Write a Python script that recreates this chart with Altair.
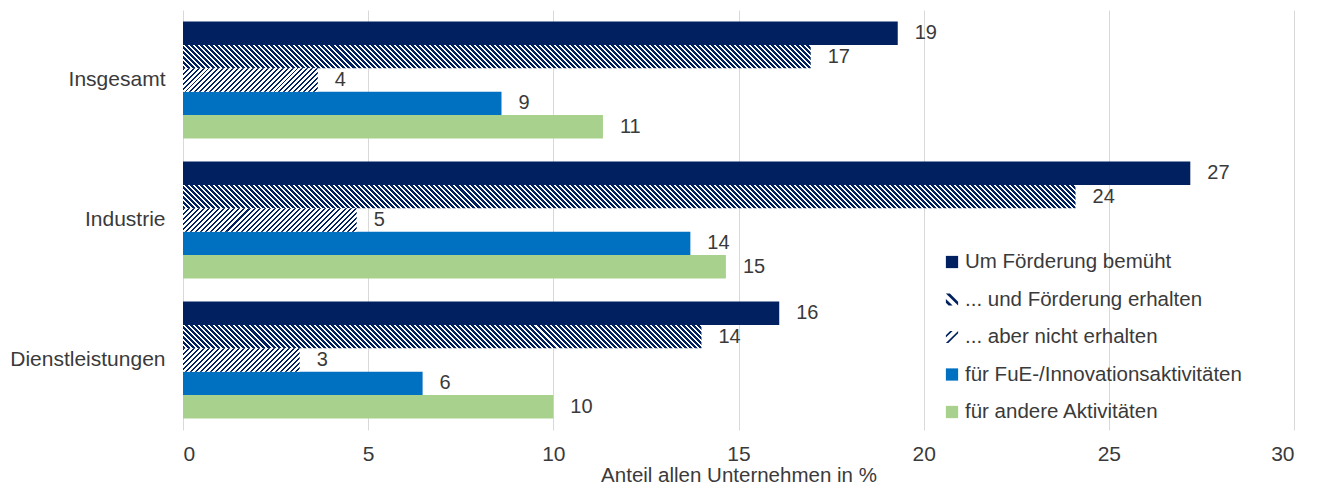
import altair as alt
import pandas as pd

# ---------------- data ----------------
groups = ["Insgesamt", "Industrie", "Dienstleistungen"]
series = [
    "Um Förderung bemüht",
    "... und Förderung erhalten",
    "... aber nicht erhalten",
    "für FuE-/Innovationsaktivitäten",
    "für andere Aktivitäten",
]
bemueht = [19.3, 27.2, 16.1]
erhalten = [16.95, 24.1, 14.0]
nicht_erhalten = [3.64, 4.69, 3.15]
fue = [8.6, 13.7, 6.47]
andere = [11.34, 14.66, 10.0]
x_ticks = [0, 5, 10, 15, 20, 25, 30]

# ---------------- styling ----------------
NAVY = "#002060"
BLUE = "#0070C0"
GREEN = "#A9D18E"
TEXT = "#3a3a3a"
FONT = "Liberation Sans"
colors = [NAVY, NAVY, NAVY, BLUE, GREEN]
hatched = {series[1]: ("down", 0.6), series[2]: ("up", 0.4)}

W, H = 1111, 420
P_INNER = 0.164
SUB_H = H / 3 * (1 - P_INNER) / 5     # pixel height of a single bar
H_PERIOD = 5.0                         # horizontal stripe period (px)

# legend layout (pixels inside the plot area)
LEG_X_SYMBOL = 769
LEG_X_TEXT = 782
LEG_Y0 = 252
LEG_STEP = 37.5

values = [bemueht, erhalten, nicht_erhalten, fue, andere]
rows = []
for si, s in enumerate(series):
    for gi, g in enumerate(groups):
        rows.append({"group": g, "series": s, "value": values[si][gi]})
df = pd.DataFrame(rows)


def stripe_gradient(value, direction, frac):
    L = value / 30 * W
    Hh = SUB_H
    r = Hh / L
    n = max(1, round((L + Hh) / H_PERIOD))
    k = (1 + r) / (1 + r * r)
    if direction == "up":        # "/" stripes
        x1, y1 = 0, 0
        x2, y2 = k, k * r
    else:                        # "\" stripes
        x1, y1 = 0, 1
        x2, y2 = k, 1 - k * r
    stops = []
    for i in range(n):
        a = i / n
        b = (i + frac) / n
        c = (i + 1) / n
        stops += [
            {"offset": a, "color": NAVY},
            {"offset": b, "color": NAVY},
            {"offset": b, "color": "#ffffff"},
            {"offset": c, "color": "#ffffff"},
        ]
    return {"gradient": "linear", "x1": x1, "y1": y1, "x2": x2, "y2": y2, "stops": stops}


y_enc = alt.Y(
    "group:N",
    sort=groups,
    scale=alt.Scale(domain=groups, paddingInner=P_INNER, paddingOuter=P_INNER / 2),
    axis=alt.Axis(
        title=None, domain=False, ticks=False, grid=False,
        labelFontSize=21, labelFont=FONT, labelColor=TEXT, labelPadding=18,
    ),
)
yoff_enc = alt.YOffset(
    "series:N", sort=series,
    scale=alt.Scale(domain=series, paddingInner=0, paddingOuter=0),
)
x_enc = alt.X(
    "value:Q",
    scale=alt.Scale(domain=[0, 30], nice=False),
    axis=alt.Axis(
        values=x_ticks, title="Anteil allen Unternehmen  in %",
        domain=False, ticks=False, grid=True, gridColor="#d9d9d9", gridWidth=1,
        labelFontSize=21, labelFont=FONT, labelColor=TEXT, labelPadding=13,
        titleFontSize=20.5, titleFont=FONT, titleColor=TEXT, titleFontWeight="normal",
        titlePadding=1,
    ),
)

base = alt.Chart(df)

solid = base.transform_filter(
    alt.FieldOneOfPredicate(field="series", oneOf=[series[0], series[3], series[4]])
).mark_bar().encode(
    x=x_enc, y=y_enc, yOffset=yoff_enc,
    fill=alt.Fill("series:N", scale=alt.Scale(domain=series, range=colors), legend=None),
)

layers = [solid]
for s, (direction, frac) in hatched.items():
    si = series.index(s)
    for gi, g in enumerate(groups):
        grad = stripe_gradient(values[si][gi], direction, frac)
        layers.append(
            base.transform_filter(
                (alt.datum.series == s) & (alt.datum.group == g)
            ).mark_bar(color=grad).encode(x=x_enc, y=y_enc, yOffset=yoff_enc)
        )

labels = base.mark_text(
    align="left", baseline="middle", dx=17, fontSize=20, font=FONT, color=TEXT
).encode(
    x=x_enc, y=y_enc, yOffset=yoff_enc,
    text=alt.Text("value:Q", format=".0f"),
)
layers.append(labels)

# ---------------- legend built from marks ----------------
shapes = [
    "square",
    "M-1,-1 L-0.35,-1 L1,0.35 L1,1 Z M-1,-0.1 L-1,0.55 L-0.55,1 L0.1,1 Z",
    "M-1,1 L-0.6,1 L1,-0.6 L1,-1 Z M-1,0.1 L-1,-0.3 L-0.3,-1 L0.1,-1 Z",
    "square",
    "square",
]
legend_src = pd.DataFrame({"series": series})
for i, s in enumerate(series):
    yy = LEG_Y0 + i * LEG_STEP
    entry = alt.Chart(legend_src).transform_filter(alt.datum.series == s)
    layers.append(
        entry.mark_point(filled=True, size=150, opacity=1, strokeWidth=0).encode(
            x=alt.value(LEG_X_SYMBOL), y=alt.value(yy),
            color=alt.Color("series:N", sort=series,
                            scale=alt.Scale(domain=series, range=colors), legend=None),
            shape=alt.Shape("series:N", sort=series,
                            scale=alt.Scale(domain=series, range=shapes), legend=None),
        )
    )
    layers.append(
        entry.mark_text(align="left", baseline="middle", fontSize=20.5, font=FONT, color=TEXT).encode(
            x=alt.value(LEG_X_TEXT), y=alt.value(yy), text="series:N",
        )
    )

chart = alt.layer(*layers).properties(
    width=W, height=H,
    autosize=alt.AutoSizeParams(type="none"),
    padding={"left": 175, "top": 2, "right": 10, "bottom": 57},
).configure_view(stroke=None)

chart.save("out.html", embed_options={"renderer": "svg", "actions": False})
